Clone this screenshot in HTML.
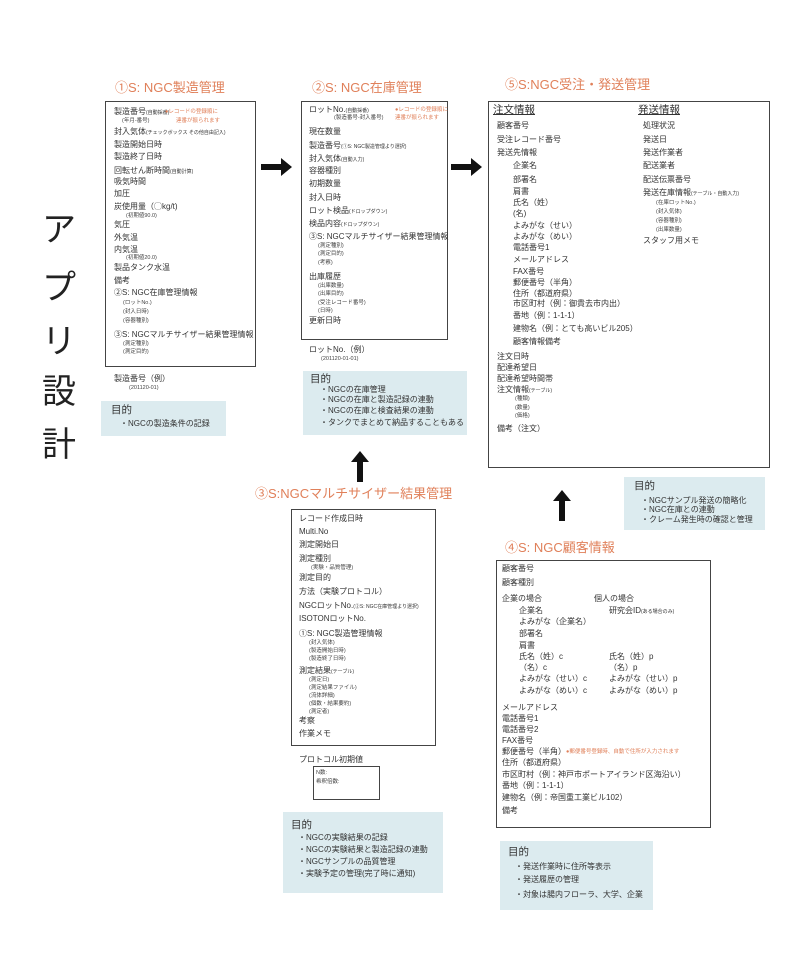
<!DOCTYPE html>
<html><head><meta charset="utf-8"><style>
body{margin:0;width:809px;height:972px;background:#fff;position:relative;overflow:hidden;font-family:"Liberation Sans","Noto Sans CJK JP",sans-serif;color:#333}
div{position:absolute;white-space:nowrap}
.t{font-size:8px;line-height:12px;margin-top:-6px}
.t span{font-size:5px!important}
.s{font-size:5.5px;line-height:8px;margin-top:-4px;color:#444}
.r{color:#e0805a}
.h{font-size:13px;color:#e0805a;line-height:18px;margin-top:-9px}
.box{border:1px solid #444;box-sizing:border-box}
.p{background:#dcebef}
.m{font-size:10.5px;line-height:14px;margin-top:-7px}
.u{text-decoration:underline;font-size:10.5px;line-height:14px;margin-top:-7px}
.v{font-size:34px;line-height:40px;color:#222}
</style></head><body>
<div class="v" style="left:42px;top:210px">ア</div>
<div class="v" style="left:42px;top:268px">プ</div>
<div class="v" style="left:42px;top:322px">リ</div>
<div class="v" style="left:42px;top:372px">設</div>
<div class="v" style="left:42px;top:425px">計</div>

<svg style="position:absolute;left:0;top:0" width="809" height="972">
<polygon points="261,164 281,164 281,158 292,167 281,176 281,170 261,170" fill="#111"/>
<polygon points="451,164 471,164 471,158 482,167 471,176 471,170 451,170" fill="#111"/>
<polygon points="357,482 357,462 351,462 360,451 369,462 363,462 363,482" fill="#111"/>
<polygon points="559,521 559,501 553,501 562,490 571,501 565,501 565,521" fill="#111"/>
</svg>

<!-- Box1 -->
<div class="h" style="left:115px;top:88px">①S: NGC製造管理</div>
<div class="box" style="left:105px;top:101px;width:151px;height:266px"></div>
<div class="t" style="left:114px;top:112px">製造番号<span>(自動採番)</span></div>
<div class="s r" style="left:165px;top:112px">●レコードの登録順に</div>
<div class="s" style="left:122px;top:121px">(年月-番号)</div>
<div class="s r" style="left:176px;top:121px">連番が振られます</div>
<div class="t" style="left:114px;top:132px">封入気体<span>(チェックボックス その他自由記入)</span></div>
<div class="t" style="left:114px;top:145px">製造開始日時</div>
<div class="t" style="left:114px;top:157px">製造終了日時</div>
<div class="t" style="left:114px;top:171px">回転せん断時間<span>(自動計算)</span></div>
<div class="t" style="left:114px;top:182px">吸気時間</div>
<div class="t" style="left:114px;top:194px">加圧</div>
<div class="t" style="left:114px;top:207px">炭使用量（◯kg/t)</div>
<div class="s" style="left:126px;top:216px">(初期値90.0)</div>
<div class="t" style="left:114px;top:225px">気圧</div>
<div class="t" style="left:114px;top:238px">外気温</div>
<div class="t" style="left:114px;top:250px">内気温</div>
<div class="s" style="left:126px;top:258px">(初期値20.0)</div>
<div class="t" style="left:114px;top:268px">製品タンク水温</div>
<div class="t" style="left:114px;top:281px">備考</div>
<div class="t" style="left:114px;top:293px">②S: NGC在庫管理情報</div>
<div class="s" style="left:123px;top:303px">(ロットNo.)</div>
<div class="s" style="left:123px;top:312px">(封入日時)</div>
<div class="s" style="left:123px;top:321px">(容器種別)</div>
<div class="t" style="left:114px;top:335px">③S: NGCマルチサイザー結果管理情報</div>
<div class="s" style="left:123px;top:344px">(測定種別)</div>
<div class="s" style="left:123px;top:352px">(測定目的)</div>
<div class="t" style="left:114px;top:379px">製造番号（例）</div>
<div class="s" style="left:129px;top:388px">(201120-01)</div>
<div class="p" style="left:101px;top:401px;width:125px;height:35px"></div>
<div class="m" style="left:111px;top:410px">目的</div>
<div class="t" style="left:120px;top:424px">・NGCの製造条件の記録</div>

<!-- Box2 -->
<div class="h" style="left:312px;top:88px">②S: NGC在庫管理</div>
<div class="box" style="left:301px;top:101px;width:147px;height:239px"></div>
<div class="t" style="left:309px;top:110px">ロットNo.<span>(自動採番)</span></div>
<div class="s" style="left:334px;top:118px">(製造番号-封入番号)</div>
<div class="s r" style="left:395px;top:110px">●レコードの登録順に</div>
<div class="s r" style="left:395px;top:118px">連番が振られます</div>
<div class="t" style="left:309px;top:132px">現在数量</div>
<div class="t" style="left:309px;top:146px">製造番号<span>(①S: NGC製造管理より選択)</span></div>
<div class="t" style="left:309px;top:159px">封入気体<span>(自動入力)</span></div>
<div class="t" style="left:309px;top:171px">容器種別</div>
<div class="t" style="left:309px;top:184px">初期数量</div>
<div class="t" style="left:309px;top:198px">封入日時</div>
<div class="t" style="left:309px;top:211px">ロット検品<span>(ドロップダウン)</span></div>
<div class="t" style="left:309px;top:224px">検品内容<span>(ドロップダウン)</span></div>
<div class="t" style="left:309px;top:237px">③S: NGCマルチサイザー結果管理情報</div>
<div class="s" style="left:318px;top:246px">(測定種別)</div>
<div class="s" style="left:318px;top:254px">(測定目的)</div>
<div class="s" style="left:318px;top:263px">(考察)</div>
<div class="t" style="left:309px;top:277px">出庫履歴</div>
<div class="s" style="left:318px;top:286px">(出庫数量)</div>
<div class="s" style="left:318px;top:294px">(出庫目的)</div>
<div class="s" style="left:318px;top:303px">(受注レコード番号)</div>
<div class="s" style="left:318px;top:311px">(日時)</div>
<div class="t" style="left:309px;top:321px">更新日時</div>
<div class="t" style="left:309px;top:350px">ロットNo.（例）</div>
<div class="s" style="left:321px;top:359px">(201120-01-01)</div>
<div class="p" style="left:303px;top:371px;width:164px;height:64px"></div>
<div class="m" style="left:310px;top:379px">目的</div>
<div class="t" style="left:320px;top:390px">・NGCの在庫管理</div>
<div class="t" style="left:320px;top:400px">・NGCの在庫と製造記録の連動</div>
<div class="t" style="left:320px;top:411px">・NGCの在庫と検査結果の連動</div>
<div class="t" style="left:320px;top:423px">・タンクでまとめて納品することもある</div>

<!-- Box5 -->
<div class="h" style="left:505px;top:85px">⑤S:NGC受注・発送管理</div>
<div class="box" style="left:488px;top:101px;width:282px;height:367px"></div>
<div class="u" style="left:493px;top:110px">注文情報</div>
<div class="u" style="left:638px;top:110px">発送情報</div>
<div class="t" style="left:497px;top:126px">顧客番号</div>
<div class="t" style="left:497px;top:140px">受注レコード番号</div>
<div class="t" style="left:497px;top:153px">発送先情報</div>
<div class="t" style="left:513px;top:166px">企業名</div>
<div class="t" style="left:513px;top:180px">部署名</div>
<div class="t" style="left:513px;top:192px">肩書</div>
<div class="t" style="left:513px;top:203px">氏名（姓）</div>
<div class="t" style="left:513px;top:214px">(名)</div>
<div class="t" style="left:513px;top:226px">よみがな（せい）</div>
<div class="t" style="left:513px;top:237px">よみがな（めい）</div>
<div class="t" style="left:513px;top:248px">電話番号1</div>
<div class="t" style="left:513px;top:260px">メールアドレス</div>
<div class="t" style="left:513px;top:272px">FAX番号</div>
<div class="t" style="left:513px;top:283px">郵便番号（半角）</div>
<div class="t" style="left:513px;top:294px">住所（都道府県）</div>
<div class="t" style="left:513px;top:304px">市区町村（例：御貴去市内出）</div>
<div class="t" style="left:513px;top:316px">番地（例：1-1-1）</div>
<div class="t" style="left:513px;top:329px">建物名（例：とても高いビル205）</div>
<div class="t" style="left:513px;top:342px">顧客情報備考</div>
<div class="t" style="left:497px;top:357px">注文日時</div>
<div class="t" style="left:497px;top:368px">配達希望日</div>
<div class="t" style="left:497px;top:379px">配達希望時間帯</div>
<div class="t" style="left:497px;top:390px">注文情報<span>(テーブル)</span></div>
<div class="s" style="left:515px;top:399px">(種類)</div>
<div class="s" style="left:515px;top:408px">(数量)</div>
<div class="s" style="left:515px;top:416px">(価格)</div>
<div class="t" style="left:497px;top:429px">備考（注文）</div>
<div class="t" style="left:643px;top:126px">処理状況</div>
<div class="t" style="left:643px;top:140px">発送日</div>
<div class="t" style="left:643px;top:153px">発送作業者</div>
<div class="t" style="left:643px;top:166px">配送業者</div>
<div class="t" style="left:643px;top:180px">配送伝票番号</div>
<div class="t" style="left:643px;top:193px">発送在庫情報<span>(テーブル・自動入力)</span></div>
<div class="s" style="left:656px;top:203px">(在庫ロットNo.)</div>
<div class="s" style="left:656px;top:212px">(封入気体)</div>
<div class="s" style="left:656px;top:221px">(容器種別)</div>
<div class="s" style="left:656px;top:230px">(出庫数量)</div>
<div class="t" style="left:643px;top:241px">スタッフ用メモ</div>
<div class="p" style="left:624px;top:477px;width:141px;height:53px"></div>
<div class="m" style="left:634px;top:486px">目的</div>
<div class="t" style="left:641px;top:501px">・NGCサンプル発送の簡略化</div>
<div class="t" style="left:641px;top:510px">・NGC在庫との連動</div>
<div class="t" style="left:641px;top:520px">・クレーム発生時の確認と管理</div>

<!-- Box3 -->
<div class="h" style="left:255px;top:494px">③S:NGCマルチサイザー結果管理</div>
<div class="box" style="left:291px;top:509px;width:145px;height:237px"></div>
<div class="t" style="left:299px;top:519px">レコード作成日時</div>
<div class="t" style="left:299px;top:532px">Multi.No</div>
<div class="t" style="left:299px;top:545px">測定開始日</div>
<div class="t" style="left:299px;top:559px">測定種別</div>
<div class="s" style="left:311px;top:568px">(実験・品質管理)</div>
<div class="t" style="left:299px;top:578px">測定目的</div>
<div class="t" style="left:299px;top:592px">方法（実験プロトコル）</div>
<div class="t" style="left:299px;top:606px">NGCロットNo.<span>(②S: NGC在庫管理より選択)</span></div>
<div class="t" style="left:299px;top:619px">ISOTONロットNo.</div>
<div class="t" style="left:299px;top:634px">①S: NGC製造管理情報</div>
<div class="s" style="left:309px;top:643px">(封入気体)</div>
<div class="s" style="left:309px;top:651px">(製造開始日時)</div>
<div class="s" style="left:309px;top:659px">(製造終了日時)</div>
<div class="t" style="left:299px;top:671px">測定結果<span>(テーブル)</span></div>
<div class="s" style="left:309px;top:680px">(測定日)</div>
<div class="s" style="left:309px;top:688px">(測定結果ファイル)</div>
<div class="s" style="left:309px;top:696px">(流体詳細)</div>
<div class="s" style="left:309px;top:704px">(個数・結果要約)</div>
<div class="s" style="left:309px;top:712px">(測定者)</div>
<div class="t" style="left:299px;top:721px">考察</div>
<div class="t" style="left:299px;top:734px">作業メモ</div>
<div class="t" style="left:299px;top:760px">プロトコル初期値</div>
<div class="box" style="left:313px;top:766px;width:67px;height:34px"></div>
<div class="s" style="left:316px;top:773px">N数:</div>
<div class="s" style="left:316px;top:782px">希釈倍数:</div>
<div class="p" style="left:283px;top:812px;width:160px;height:81px"></div>
<div class="m" style="left:291px;top:825px">目的</div>
<div class="t" style="left:298px;top:838px">・NGCの実験結果の記録</div>
<div class="t" style="left:298px;top:850px">・NGCの実験結果と製造記録の連動</div>
<div class="t" style="left:298px;top:862px">・NGCサンプルの品質管理</div>
<div class="t" style="left:298px;top:874px">・実験予定の管理(完了時に通知)</div>

<!-- Box4 -->
<div class="h" style="left:505px;top:548px">④S: NGC顧客情報</div>
<div class="box" style="left:496px;top:560px;width:215px;height:268px"></div>
<div class="t" style="left:502px;top:569px">顧客番号</div>
<div class="t" style="left:502px;top:583px">顧客種別</div>
<div class="t" style="left:502px;top:599px">企業の場合</div>
<div class="t" style="left:594px;top:599px">個人の場合</div>
<div class="t" style="left:519px;top:611px">企業名</div>
<div class="t" style="left:519px;top:622px">よみがな（企業名）</div>
<div class="t" style="left:519px;top:634px">部署名</div>
<div class="t" style="left:519px;top:646px">肩書</div>
<div class="t" style="left:519px;top:657px">氏名（姓）c</div>
<div class="t" style="left:519px;top:668px">（名）c</div>
<div class="t" style="left:519px;top:679px">よみがな（せい）c</div>
<div class="t" style="left:519px;top:691px">よみがな（めい）c</div>
<div class="t" style="left:609px;top:611px">研究会ID<span>(ある場合のみ)</span></div>
<div class="t" style="left:609px;top:657px">氏名（姓）p</div>
<div class="t" style="left:609px;top:668px">（名）p</div>
<div class="t" style="left:609px;top:679px">よみがな（せい）p</div>
<div class="t" style="left:609px;top:691px">よみがな（めい）p</div>
<div class="t" style="left:502px;top:708px">メールアドレス</div>
<div class="t" style="left:502px;top:719px">電話番号1</div>
<div class="t" style="left:502px;top:730px">電話番号2</div>
<div class="t" style="left:502px;top:741px">FAX番号</div>
<div class="t" style="left:502px;top:752px">郵便番号（半角）</div>
<div class="s r" style="left:566px;top:752px">●郵便番号登録時、自動で住所が入力されます</div>
<div class="t" style="left:502px;top:763px">住所（都道府県）</div>
<div class="t" style="left:502px;top:775px">市区町村（例：神戸市ポートアイランド区海沿い）</div>
<div class="t" style="left:502px;top:786px">番地（例：1-1-1）</div>
<div class="t" style="left:502px;top:798px">建物名（例：帝国重工業ビル102）</div>
<div class="t" style="left:502px;top:811px">備考</div>
<div class="p" style="left:500px;top:841px;width:153px;height:69px"></div>
<div class="m" style="left:508px;top:852px">目的</div>
<div class="t" style="left:515px;top:867px">・発送作業時に住所等表示</div>
<div class="t" style="left:515px;top:880px">・発送履歴の管理</div>
<div class="t" style="left:515px;top:895px">・対象は腸内フローラ、大学、企業</div>
</body></html>
